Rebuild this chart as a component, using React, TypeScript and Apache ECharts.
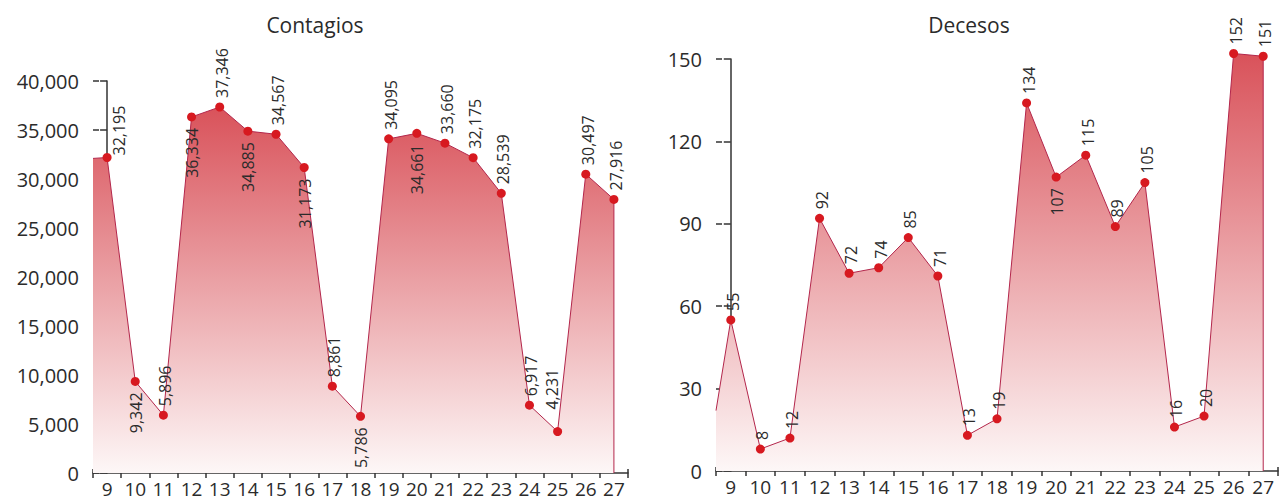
import React, { useEffect, useRef } from "react";
import * as echarts from "echarts";

// ---- Data ----
const days = ["9", "10", "11", "12", "13", "14", "15", "16", "17", "18", "19", "20", "21", "22", "23", "24", "25", "26", "27"];
const contagios = [32195, 9342, 5896, 36334, 37346, 34885, 34567, 31173, 8861, 5786, 34095, 34661, 33660, 32175, 28539, 6917, 4231, 30497, 27916];
const decesos = [55, 8, 12, 92, 72, 74, 85, 71, 13, 19, 134, 107, 115, 89, 105, 16, 20, 152, 151];
// value where the shaded line enters at the left axis
const contagiosLeftEdge = 32100;
const decesosLeftEdge = 22;
const contagiosTicks = { min: 0, max: 40000, interval: 5000 };
const decesosTicks = { min: 0, max: 150, interval: 30 };

// label placement (style only)
type Side = "up" | "down" | "right" | "upleft";
const contagiosSides: Side[] = ["right", "down", "up", "down", "up", "down", "up", "down", "up", "down", "up", "down", "up", "up", "up", "up", "upleft", "up", "up"];
const decesosSides: Side[] = ["up", "up", "up", "up", "up", "up", "up", "up", "up", "up", "up", "down", "up", "up", "up", "up", "up", "up", "up"];

const FONT = "'Open Sans', 'Noto Sans', sans-serif";
const TEXT = "#2b2b2b";
const AXIS = "#333333";
const SYMBOL = 9;

function labelFor(side: Side) {
  const h = SYMBOL / 2;
  switch (side) {
    case "up":
      return { position: [h + 2, h - 9], align: "left" };
    case "down":
      return { position: [h + 0.5, h + 11], align: "right" };
    case "right":
      return { position: [h + 12, h - 2], align: "left" };
    case "upleft":
      return { position: [h - 6, h - 22], align: "left" };
  }
}

function buildData(values: number[], sides: Side[], leftEdge: number) {
  const n = values.length;
  const items: any[] = [
    { value: [-0.5, leftEdge], symbol: "none", label: { show: false } },
  ];
  values.forEach((v, i) => {
    items.push({ value: [i, v], label: labelFor(sides[i]) });
  });
  items.push({ value: [n - 1, 0], symbol: "none", label: { show: false } });
  return items;
}

function fmt(v: number) {
  return v.toLocaleString("en-US");
}

function axesFor(gridIndex: number, ticks: { min: number; max: number; interval: number }) {
  const n = days.length;
  const xAxes = [
    {
      type: "category",
      gridIndex,
      position: "bottom",
      data: days,
      boundaryGap: true,
      axisLine: { show: true, lineStyle: { color: AXIS, width: 1.5 } },
      axisTick: { show: true, interval: 0, length: 5, inside: false, lineStyle: { color: AXIS, width: 1.5 } },
      axisLabel: { show: true, interval: 0, margin: 6, fontSize: 19, lineHeight: 20, color: TEXT, fontFamily: FONT },
      splitLine: { show: false },
    },
    {
      type: "category",
      gridIndex,
      position: "bottom",
      data: days,
      boundaryGap: true,
      offset: 0,
      axisLine: { show: false },
      axisTick: { show: true, interval: 0, length: 4, inside: true, lineStyle: { color: AXIS, width: 1.5 } },
      axisLabel: { show: false },
      splitLine: { show: false },
    },
    {
      type: "value",
      gridIndex,
      position: "bottom",
      min: -0.5,
      max: n - 0.5,
      show: false,
      splitLine: { show: false },
    },
  ];
  const yAxes = [
    {
      type: "value",
      gridIndex,
      position: "left",
      min: ticks.min,
      max: ticks.max,
      interval: ticks.interval,
      axisLine: { show: true, lineStyle: { color: AXIS, width: 1.5 } },
      axisTick: { show: true, length: 7, inside: false, lineStyle: { color: AXIS, width: 1.5 } },
      axisLabel: { show: true, margin: 14, fontSize: 20, color: TEXT, fontFamily: FONT, formatter: (v: number) => fmt(v) },
      splitLine: { show: false },
    },
    {
      type: "value",
      gridIndex,
      position: "left",
      min: ticks.min,
      max: ticks.max,
      interval: ticks.interval,
      offset: 0,
      axisLine: { show: false },
      axisTick: { show: true, length: 6, inside: true, lineStyle: { color: AXIS, width: 1.5 } },
      axisLabel: { show: false },
      splitLine: { show: false },
    },
  ];
  return { xAxes, yAxes };
}

function seriesFor(values: number[], sides: Side[], leftEdge: number, xAxisIndex: number, yAxisIndex: number, useComma: boolean) {
  return {
    type: "line",
    xAxisIndex,
    yAxisIndex,
    data: buildData(values, sides, leftEdge),
    symbol: "circle",
    symbolSize: SYMBOL,
    showAllSymbol: true,
    clip: false,
    z: 3,
    lineStyle: { color: "#b3264b", width: 1 },
    itemStyle: { color: "#d71920" },
    areaStyle: {
      opacity: 1,
      color: new echarts.graphic.LinearGradient(0, 0, 0, 1, [
        { offset: 0, color: "#d9525a" },
        { offset: 1, color: "#fdf7f7" },
      ]),
    },
    emphasis: { disabled: true },
    label: {
      show: true,
      rotate: 90,
      verticalAlign: "middle",
      fontSize: 16,
      color: TEXT,
      fontFamily: FONT,
      formatter: (p: any) => (useComma ? fmt(p.value[1]) : String(p.value[1])),
    },
  };
}

export default function App() {
  const ref = useRef<HTMLDivElement>(null);
  useEffect(() => {
    if (!ref.current) return;
    const chart = echarts.init(ref.current, null, { renderer: "svg" });
    const a = axesFor(0, contagiosTicks);
    const b = axesFor(1, decesosTicks);
    chart.setOption({
      animation: false,
      backgroundColor: "#ffffff",
      graphic: [
        {
          type: "text",
          x: 315,
          y: 25,
          style: { text: "Contagios", font: `21px ${FONT}`, fill: TEXT, textAlign: "center", textVerticalAlign: "middle", align: "center", verticalAlign: "middle" },
        },
        {
          type: "text",
          x: 969,
          y: 25,
          style: { text: "Decesos", font: `21px ${FONT}`, fill: TEXT, textAlign: "center", textVerticalAlign: "middle", align: "center", verticalAlign: "middle" },
        },
      ],
      grid: [
        { left: 93, top: 81, width: 535, height: 392 },
        { left: 716, top: 59, width: 562, height: 412 },
      ],
      xAxis: [...a.xAxes, ...b.xAxes],
      yAxis: [...a.yAxes, ...b.yAxes],
      series: [
        seriesFor(contagios, contagiosSides, contagiosLeftEdge, 2, 0, true),
        seriesFor(decesos, decesosSides, decesosLeftEdge, 5, 2, false),
      ],
    });
    return () => chart.dispose();
  }, []);
  return <div ref={ref} style={{ position: "absolute", left: 0, top: 0, width: 1281, height: 501 }} />;
}
